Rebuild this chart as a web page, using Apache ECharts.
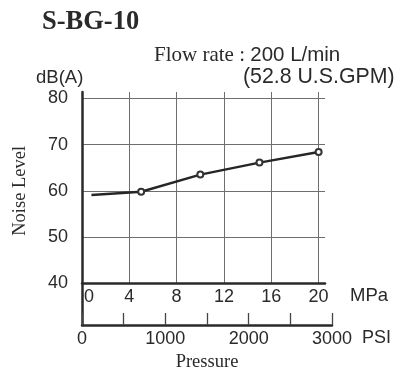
<!DOCTYPE html>
<html><head><meta charset="utf-8">
<script src="https://cdn.jsdelivr.net/npm/echarts@6/dist/echarts.min.js"></script>
<style>html,body{margin:0;padding:0;background:#fff}#c{width:416px;height:369px}</style>
</head><body><div id="c"></div>
<script>
// Data
const pressureMPa = [0.8, 5, 10, 15, 20];
const noiseDbA = [59.1, 59.8, 63.5, 66.1, 68.4];
const markerShown = [false, true, true, true, true];
const mpaTicks = [0, 4, 8, 12, 16, 20];
const psiTicks = [0, 1000, 2000, 3000];
const noiseTicks = [40, 50, 60, 70, 80];

const sans = 'Liberation Sans';
const serif = 'Liberation Serif';
const ink = '#2a2a2a';
const gridGray = '#6e6e6e';

const chart = echarts.init(document.getElementById('c'), null, {renderer: 'canvas'});
const seriesData = pressureMPa.map((x, i) => markerShown[i] ? [x, noiseDbA[i]] : {value: [x, noiseDbA[i]], symbol: 'none'});

const t = (text, left, top, size, family, weight) => ({
  text, left, top, padding: 0,
  textStyle: {fontFamily: family, fontSize: size, fontWeight: weight || 'normal', color: ink}
});

chart.setOption({
  animation: false,
  backgroundColor: '#fff',
  title: [
    t('S-BG-10', 42, 9, 26.5, serif, 'bold'),
    {text: '{s|Flow rate : }{n|200 L/min}', left: 154, top: 45, padding: 0, textStyle: {fontWeight: 'normal', rich: {
      s: {fontFamily: serif, fontSize: 21, fontWeight: 'normal', color: ink},
      n: {fontFamily: sans, fontSize: 20.5, fontWeight: 'normal', color: ink}}}},
    t('(52.8 U.S.GPM)', 243, 67, 21.3, sans),
    t('dB(A)', 36, 68, 18.5, sans),
    t('MPa', 350, 286, 18.5, sans),
    t('PSI', 362, 329, 18, sans)
  ],
  grid: [
    {left: 82, top: 92, width: 236.5, height: 191.3, outerBoundsMode: 'none', containLabel: false},
    {left: 82, top: 98.3, width: 243, height: 185, outerBoundsMode: 'none', containLabel: false},
    {left: 82, top: 92, width: 250, height: 233, outerBoundsMode: 'none', containLabel: false}
  ],
  xAxis: [
    {gridIndex: 0, type: 'value', min: mpaTicks[0], max: mpaTicks[mpaTicks.length - 1], interval: 4,
     axisLine: {show: false}, axisTick: {show: false},
     axisLabel: {margin: 5, color: ink, fontFamily: sans, fontSize: 18,
       formatter: v => v === 0 ? '{z|0}' : String(v),
       rich: {z: {padding: [0, 0, 0, 14], fontFamily: sans, fontSize: 18, color: ink}}},
     splitLine: {show: true, lineStyle: {color: gridGray, width: 1}}},
    {gridIndex: 1, type: 'value', min: 0, max: 20.54,
     axisLine: {show: true, onZero: false, lineStyle: {color: ink, width: 2.5}},
     axisTick: {show: false}, axisLabel: {show: false}, splitLine: {show: false}},
    {gridIndex: 2, type: 'value', min: 0, max: 3000, interval: 500,
     axisLine: {show: true, onZero: false, lineStyle: {color: ink, width: 2.5}},
     axisTick: {show: true, inside: true, length: 12, lineStyle: {color: '#444', width: 1.3}},
     axisLabel: {margin: 5, color: ink, fontFamily: sans, fontSize: 18,
       formatter: v => psiTicks.indexOf(v) >= 0 ? String(v) : ''},
     splitLine: {show: false},
     name: 'Pressure', nameLocation: 'middle', nameGap: 26,
     nameTextStyle: {fontFamily: serif, fontSize: 18.5, color: ink}}
  ],
  yAxis: [
    {gridIndex: 0, type: 'value', min: 0, max: 1, show: false},
    {gridIndex: 1, type: 'value', min: noiseTicks[0], max: noiseTicks[noiseTicks.length - 1], interval: 10,
     axisLine: {show: false}, axisTick: {show: false},
     axisLabel: {margin: 14, color: ink, fontFamily: sans, fontSize: 18},
     splitLine: {show: true, lineStyle: {color: gridGray, width: 1}},
     name: 'Noise Level', nameLocation: 'middle', nameRotate: 90, nameGap: 52,
     nameTextStyle: {fontFamily: serif, fontSize: 18.5, color: ink}},
    {gridIndex: 2, type: 'value', min: 0, max: 1,
     axisLine: {show: true, onZero: false, lineStyle: {color: ink, width: 2.5}},
     axisTick: {show: false}, axisLabel: {show: false}, splitLine: {show: false}}
  ],
  series: [{
    type: 'line', xAxisIndex: 1, yAxisIndex: 1, data: seriesData, clip: false,
    symbol: 'emptyCircle', symbolSize: 6, z: 10,
    lineStyle: {color: '#262626', width: 2.4},
    itemStyle: {color: '#333', borderWidth: 1}
  }]
});
</script></body></html>
